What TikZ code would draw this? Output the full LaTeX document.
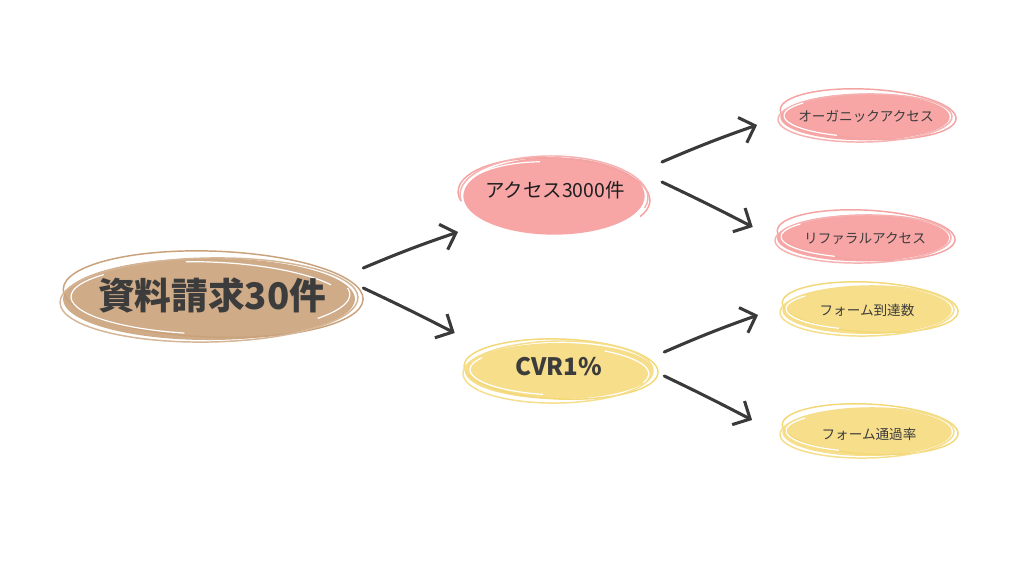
\documentclass[tikz,border=0pt]{standalone}
\usepackage{fontspec}
\newfontfamily\jp{Noto Sans CJK JP}
\usetikzlibrary{shapes.geometric,arrows.meta}
\definecolor{brownfill}{HTML}{CFAB88}
\definecolor{brownline}{HTML}{C9A27C}
\definecolor{pinkfill}{HTML}{F7A5A5}
\definecolor{pinkline}{HTML}{F4A3A3}
\definecolor{yellowfill}{HTML}{F7DE8B}
\definecolor{yellowline}{HTML}{F3D878}
\definecolor{ink}{HTML}{3C3C3C}
\definecolor{arrowc}{HTML}{3A3A3A}
\begin{document}
\begin{tikzpicture}[x=0.75pt,y=-0.75pt,
  blob/.style={ellipse, inner sep=0pt, draw=none},
  arr/.style={draw=arrowc, line width=2.3pt, line cap=round,
    -{Straight Barb[length=10pt,width=20pt,line width=2.3pt]}},
  sk/.style={line width=1.1pt},
  wsk/.style={white, line width=0.9pt}]
\useasboundingbox[fill=white] (0,0) rectangle (1024,576);

% ---- main node ----
\node[blob, fill=brownfill, minimum width=219pt, minimum height=61.5pt] (main) at (209,299) {};
\draw[sk,brownline,shift={(main.center)},rotate=-2] (4,-5) ellipse (150 and 43);
\draw[sk,brownline!80,shift={(main.center)},rotate=1] (0,1) ellipse (149 and 42);
\draw[wsk,shift={(main.center)},rotate=-1] (100:138 and 35) arc[start angle=100,end angle=220,x radius=138,y radius=35];
\draw[wsk,shift={(main.center)},rotate=-2] (260:140 and 37) arc[start angle=260,end angle=330,x radius=140,y radius=37];
\draw[wsk,shift={(main.center)},rotate=2] (350:141 and 36) arc[start angle=350,end angle=400,x radius=141,y radius=36];
\node[font=\jp\bfseries\fontsize{27.5pt}{30pt}\selectfont, text=ink] at (212,295) {資料請求30件};

% ---- access ----
\node[blob, fill=pinkfill, minimum width=136pt, minimum height=58pt] (access) at (554,196) {};
\draw[sk,pinkline,shift={(access.center)},rotate=-3] (165:96 and 38) arc[start angle=165,end angle=385,x radius=96,y radius=38];
\draw[sk,pinkline!85,shift={(access.center)},rotate=-1] (170:94 and 40) arc[start angle=170,end angle=375,x radius=94,y radius=40];
\draw[wsk,shift={(access.center)},rotate=-3] (190:90 and 34) arc[start angle=190,end angle=260,x radius=90,y radius=34];
\node[font=\jp\fontsize{14.6pt}{16pt}\selectfont, text=black!88] at (555,190) {アクセス3000件};

% ---- CVR ----
\node[blob, fill=yellowfill, minimum width=141pt, minimum height=42pt] (cvr) at (559,371) {};
\draw[sk,yellowline,shift={(cvr.center)},rotate=-2] (2,-2) ellipse (97 and 30);
\draw[sk,yellowline!85,shift={(cvr.center)},rotate=1] (-1,1) ellipse (95 and 31);
\draw[wsk,shift={(cvr.center)},rotate=-1] (100:89 and 24) arc[start angle=100,end angle=210,x radius=89,y radius=24];
\draw[wsk,shift={(cvr.center)},rotate=-2] (300:90 and 25) arc[start angle=300,end angle=380,x radius=90,y radius=25];
\node[font=\jp\bfseries\fontsize{18pt}{20pt}\selectfont, text=ink] at (559,367) {CVR1\%};

% ---- organic ----
\node[blob, fill=pinkfill, minimum width=127pt, minimum height=35pt] (organic) at (865,117) {};
\draw[sk,pinkline,shift={(organic.center)},rotate=-3] (3,-3) ellipse (88 and 25);
\draw[sk,pinkline!85,shift={(organic.center)},rotate=1] (0,1) ellipse (87 and 24);
\draw[wsk,shift={(organic.center)},rotate=-1] (110:81 and 20) arc[start angle=110,end angle=220,x radius=81,y radius=20];
\node[font=\jp\fontsize{10.2pt}{12pt}\selectfont, text=ink] at (866,116) {オーガニックアクセス};

% ---- referral ----
\node[blob, fill=pinkfill, minimum width=129pt, minimum height=35pt] (referral) at (863,238) {};
\draw[sk,pinkline,shift={(referral.center)},rotate=-3] (3,-3) ellipse (89 and 25);
\draw[sk,pinkline!85,shift={(referral.center)},rotate=1] (0,1) ellipse (88 and 24);
\draw[wsk,shift={(referral.center)},rotate=-1] (110:82 and 20) arc[start angle=110,end angle=220,x radius=82,y radius=20];
\node[font=\jp\fontsize{10.2pt}{12pt}\selectfont, text=ink] at (865,239) {リファラルアクセス};

% ---- form arrival ----
\node[blob, fill=yellowfill, minimum width=127pt, minimum height=36pt] (forma) at (867,310) {};
\draw[sk,yellowline,shift={(forma.center)},rotate=-3] (3,-3) ellipse (88 and 25);
\draw[sk,yellowline!85,shift={(forma.center)},rotate=1] (0,1) ellipse (87 and 25);
\draw[wsk,shift={(forma.center)},rotate=-1] (110:81 and 20) arc[start angle=110,end angle=220,x radius=81,y radius=20];
\node[font=\jp\fontsize{10.2pt}{12pt}\selectfont, text=ink] at (867,310) {フォーム到達数};

% ---- form pass ----
\node[blob, fill=yellowfill, minimum width=127pt, minimum height=36pt] (formp) at (867,432) {};
\draw[sk,yellowline,shift={(formp.center)},rotate=-3] (3,-3) ellipse (88 and 25);
\draw[sk,yellowline!85,shift={(formp.center)},rotate=1] (0,1) ellipse (87 and 25);
\draw[wsk,shift={(formp.center)},rotate=-1] (110:81 and 20) arc[start angle=110,end angle=220,x radius=81,y radius=20];
\node[font=\jp\fontsize{10.2pt}{12pt}\selectfont, text=ink] at (869,434) {フォーム通過率};

% ---- arrows ----
\draw[arr] ([shift={(8,-31)}]main.east) to[bend left=2] ([shift={(-5,36)}]access.west);
\draw[arr] ([shift={(8,-11)}]main.east) to[bend left=1] ([shift={(-10,-38)}]cvr.west);
\draw[arr] ([shift={(17,-34)}]access.east) to[bend left=2] ([shift={(-23,8)}]organic.west);
\draw[arr] ([shift={(17,-14)}]access.east) to[bend left=1] ([shift={(-24,-11)}]referral.west);
\draw[arr] ([shift={(11,-19)}]cvr.east) to[bend left=2] ([shift={(-24,5)}]forma.west);
\draw[arr] ([shift={(11,5)}]cvr.east) to[bend left=1] ([shift={(-30,-12)}]formp.west);
\end{tikzpicture}
\end{document}
